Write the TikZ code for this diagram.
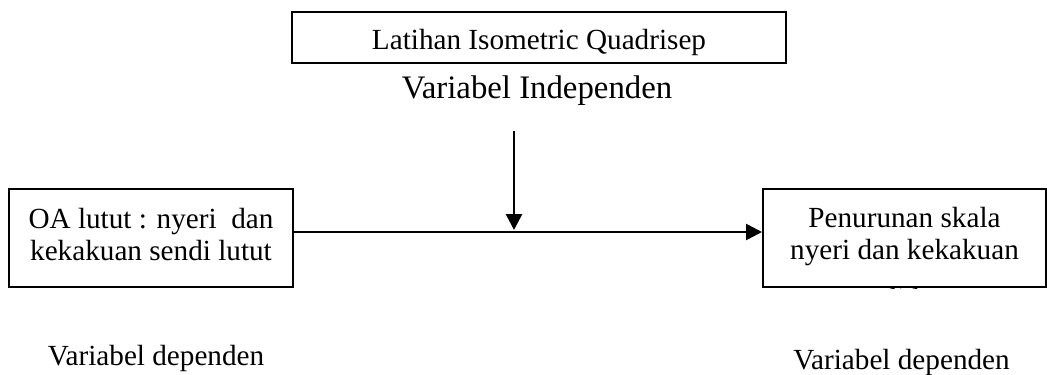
\documentclass[tikz,border=0pt]{standalone}
\usepackage{fontspec}
\setmainfont{Liberation Serif}
\usetikzlibrary{
  arrows.meta,
  positioning
}

\begin{document}
\begin{tikzpicture}[x=0.5pt,y=-0.5pt,>={Triangle[length=8pt,width=8pt]},
    font=\fontsize{14.6}{16}\selectfont,
    frame/.style={draw,line width=1pt,inner sep=0pt},
    caption/.style={inner sep=0pt,anchor=base},
    link/.style={line width=1.3pt,->}]
  \useasboundingbox (0,0) rectangle (1047,374);
  \node (latihan) at (539,37.5) [frame,minimum width=247pt,minimum height=25.5pt,
    text height=12.5pt,text depth=0pt] {Latihan Isometric Quadrisep};
  \node (indep) at (537,98) [caption,font=\fontsize{16.4}{18}\selectfont] {Variabel Independen};
  \node (oaBox) at (151,238) [frame,minimum width=142pt,minimum height=49pt] {};
  \node (oaText) at (151,208) [caption,align=center,anchor=north]
    {OA lutut : nyeri\ \ dan\\kekakuan sendi lutut};
  \node (penBox) at (904.5,238) [frame,minimum width=141.5pt,minimum height=49pt] {};
  \begin{scope}
    \clip (penBox.south west) rectangle (penBox.north east);
    \node (penText) at (904.5,207) [caption,align=center,anchor=north]
      {Penurunan skala\\nyeri dan kekakuan\\[8.5pt]sendi lutut};
  \end{scope}
  \coordinate (hub) at (514,232);
  \coordinate (dropTop) at (514,131);
  \coordinate (dropEnd) at (514,230);
  \draw[link] (oaBox.east |- hub) -- (penBox.west |- hub);
  \draw[link] (dropTop) -- (dropEnd);
  \node (depLeft) at (156,365) [caption] {Variabel dependen};
  \node (depRight) at (901.5,369) [caption] {Variabel dependen};
\end{tikzpicture}
\end{document}
